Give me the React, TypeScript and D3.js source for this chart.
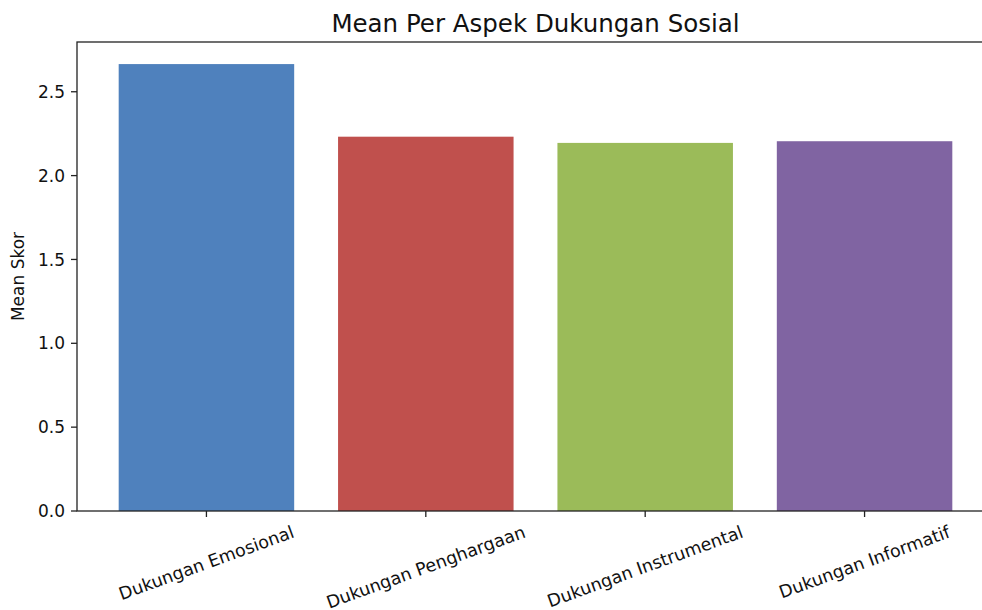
import React, { useEffect, useRef } from "react";
import * as d3 from "d3";

const categories = ["Dukungan Emosional", "Dukungan Penghargaan", "Dukungan Instrumental", "Dukungan Informatif"];
const values = [2.665, 2.232, 2.195, 2.205];
const colors = ["#4F81BD", "#C0504D", "#9BBB59", "#8064A2"];
const yTicks = [0.0, 0.5, 1.0, 1.5, 2.0, 2.5];
const title = "Mean Per Aspek Dukungan Sosial";
const yLabel = "Mean Skor";

const W = 982, H = 610;
const m = { left: 77, right: 994, top: 42, bottom: 511 };
const FONT = "DejaVu Sans, sans-serif";
const FS = 17;
const XFS = 17.5;

export default function App() {
  const ref = useRef<SVGSVGElement>(null);
  useEffect(() => {
    const svg = d3.select(ref.current);
    svg.selectAll("*").remove();
    const x = d3.scaleLinear().domain([-0.59, 3.59]).range([m.left, m.right]);
    const y = d3.scaleLinear().domain([0, 2.8]).range([m.bottom, m.bottom - 2.8 * 167.7]);
    const bw = x(0.4) - x(-0.4);

    svg.append("g").selectAll("rect").data(values).join("rect")
      .attr("x", (_, i) => x(i) - bw / 2)
      .attr("y", d => y(d))
      .attr("width", bw)
      .attr("height", d => y(0) - y(d))
      .attr("fill", (_, i) => colors[i]);

    const ax = svg.append("g").attr("stroke", "#222").attr("stroke-width", 1.3).attr("fill", "none");
    ax.append("rect").attr("x", m.left).attr("y", m.top).attr("width", m.right - m.left).attr("height", m.bottom - m.top);

    yTicks.forEach(t => {
      svg.append("line").attr("x1", m.left - 6).attr("x2", m.left).attr("y1", y(t)).attr("y2", y(t))
        .attr("stroke", "#222").attr("stroke-width", 1.3);
      svg.append("text").attr("x", m.left - 12).attr("y", y(t)).attr("dy", "0.36em")
        .attr("text-anchor", "end").attr("font-family", FONT).attr("font-size", FS).attr("fill", "#111")
        .text(t.toFixed(1));
    });

    categories.forEach((c, i) => {
      svg.append("line").attr("x1", x(i)).attr("x2", x(i)).attr("y1", m.bottom).attr("y2", m.bottom + 6)
        .attr("stroke", "#222").attr("stroke-width", 1.3);
      const t = svg.append("text").attr("font-family", FONT).attr("font-size", XFS).attr("fill", "#111")
        .attr("text-anchor", "middle").attr("dominant-baseline", "central").text(c);
      const node = t.node() as SVGTextElement;
      const w = node.getComputedTextLength();
      const h = XFS * 1.0;
      const a = (20 * Math.PI) / 180;
      const bh = w * Math.sin(a) + h * Math.cos(a);
      const cy = m.bottom + 12 + bh / 2;
      t.attr("x", x(i)).attr("y", cy).attr("transform", `rotate(-20, ${x(i)}, ${cy})`);
    });

    svg.append("text").attr("x", (m.left + m.right) / 2).attr("y", 32)
      .attr("text-anchor", "middle").attr("font-family", FONT).attr("font-size", 24.5).attr("fill", "#111")
      .text(title);

    svg.append("text").attr("transform", `translate(24, ${(m.top + m.bottom) / 2}) rotate(-90)`)
      .attr("text-anchor", "middle").attr("font-family", FONT).attr("font-size", FS).attr("fill", "#111")
      .text(yLabel);
  }, []);
  return (
    <svg ref={ref} width={W} height={H} style={{ position: "absolute", left: 0, top: 0, background: "#fff" }} />
  );
}
